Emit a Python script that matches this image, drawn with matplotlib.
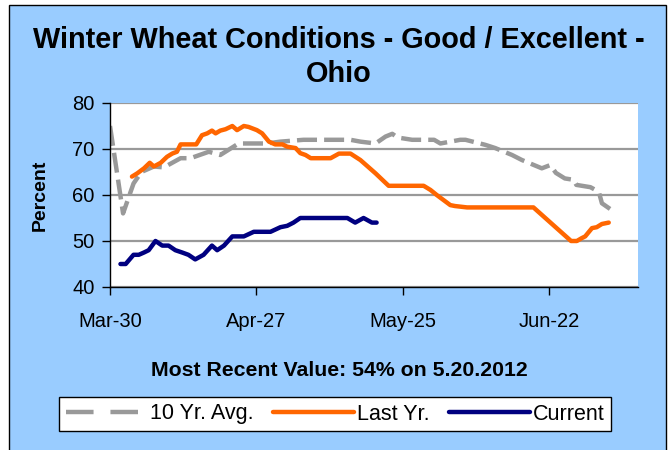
import matplotlib
matplotlib.use('Agg')
from matplotlib import pyplot as plt
from matplotlib.patches import Rectangle
from matplotlib.lines import Line2D

plt.rcParams['font.family'] = ['Liberation Sans', 'DejaVu Sans']

# days counted from Mar-30
tick_days = [0, 28, 56, 84]
tick_labels = ['Mar-30', 'Apr-27', 'May-25', 'Jun-22']

avg_days = [0, 2.5, 4.5, 6, 8.4, 10.3, 13.5, 15.4, 18.9, 21.1, 24.6, 30, 32.6, 37, 46,
            47.9, 50.8, 52.7, 54, 55, 57.8, 62, 63.2, 67, 68, 71.8, 73.7, 76.9, 78.8,
            82.6, 84.2, 85.3, 87, 88.7, 89.2, 91.9, 93.5, 94.1, 96]
avg_vals = [75, 56, 62.5, 65, 66.2, 66, 68, 68, 69.4, 68.7, 71.2, 71.2, 71.6, 72, 72,
            71.6, 71.2, 72.7, 73.3, 72.5, 72, 72, 71.2, 72, 72, 70.9, 70.2, 68.7, 67.6,
            65.8, 66.5, 64.8, 63.6, 63.3, 62.2, 61.7, 60.7, 58.2, 56.7]

last_days = [4.2, 5.2, 6.5, 7.6, 8.4, 9.7, 10.9, 11.9, 12.8, 13.5, 16.5, 17.6, 18.6,
             19.5, 20.2, 21.1, 22.1, 23.4, 24.3, 25.6, 26.5, 28.1, 29.1, 30.4, 31.6,
             33, 33.9, 35.5, 36.4, 37.4, 38.4, 42.2, 43.8, 46, 47.9, 50.8, 53.3, 60,
             61.3, 62.5, 65.1, 66, 68.3, 81, 88.2, 89.3, 90.2, 90.9, 92.2, 93.1, 94.1, 95.4]
last_vals = [64, 64.7, 65.8, 67, 66.2, 67, 68.3, 69, 69.4, 71, 71, 73, 73.4,
             74, 73.4, 74, 74.3, 75, 74.1, 75, 74.8, 74.1, 73.4, 71.6, 71,
             71, 70.5, 70.2, 69.1, 68.7, 68, 68, 69, 69, 67.6, 64.7, 62, 62,
             61.1, 60, 57.8, 57.6, 57.3, 57.3, 50, 50, 50.6, 51, 52.8, 53, 53.7, 54]

cur_days = [2, 3, 4.5, 5.5, 6.5, 7.4, 8.7, 10, 11.2, 12.5, 13.8, 15, 16.3, 17.9, 19.5,
            20.5, 21.8, 23.4, 25.6, 27.5, 30.7, 32.6, 33.9, 35.1, 36.4, 45.4, 46.9,
            48.5, 50.1, 51]
cur_vals = [45, 45, 47, 47, 47.5, 48, 50, 49, 49, 48, 47.5, 47, 46, 47, 49,
            48, 49, 51, 51, 52, 52, 53, 53.3, 54, 55, 55, 54, 55, 54, 54]

fig = plt.figure(figsize=(6.7, 4.5), dpi=100)
fig.patch.set_facecolor('white')
bg = Rectangle((8.5 / 670, -0.1), 657.5 / 670, 1.1 - 5 / 450,
               transform=fig.transFigure, facecolor='#99CCFF',
               edgecolor='black', lw=1, zorder=-10)
fig.add_artist(bg)

ax = fig.add_axes([110 / 670, 1 - 287 / 450, 528 / 670, 184 / 450])
ax.set_facecolor('white')

ax.plot(avg_days, avg_vals, color='#999999', lw=3.2, dashes=(4.5, 1.6))
ax.plot(last_days, last_vals, color='#FF6600', lw=3.2,
        solid_capstyle='round', solid_joinstyle='round')
ax.plot(cur_days, cur_vals, color='#000080', lw=3.2,
        solid_capstyle='round', solid_joinstyle='round')

ax.set_xlim(0, 101)
ax.set_ylim(40, 80)
ax.set_yticks([40, 50, 60, 70, 80])
ax.set_xticks(tick_days)
ax.set_xticklabels(tick_labels)
ax.yaxis.grid(True, color='#999999', lw=1.6)
ax.set_axisbelow(True)
for s in ['top', 'right']:
    ax.spines[s].set_visible(False)
for s in ['left', 'bottom']:
    ax.spines[s].set_color('black')
    ax.spines[s].set_linewidth(1)
ax.tick_params(axis='y', direction='out', length=6, width=1, labelsize=14.5, pad=5)
ax.tick_params(axis='x', direction='out', length=6, width=1, labelsize=14.5, pad=12)

fig.text(339 / 670, 1 - 57 / 450, 'Winter Wheat Conditions - Good / Excellent -\nOhio',
         ha='center', va='center', fontsize=20.8, fontweight='bold', linespacing=1.3)
fig.text(40 / 670, 1 - 195 / 450, 'Percent', rotation=90, ha='center', va='center',
         fontsize=14, fontweight='bold')
fig.text(339 / 670, 1 - 371 / 450, 'Most Recent Value: 54% on 5.20.2012',
         ha='center', va='center', fontsize=15.3, fontweight='bold')

handles = [Line2D([], [], color='#999999', lw=3.2, dashes=(6.2, 3.8)),
           Line2D([], [], color='#FF6600', lw=3.2, solid_capstyle='round'),
           Line2D([], [], color='#000080', lw=3.2, solid_capstyle='round')]
leg = fig.legend(handles, ['10 Yr. Avg.', 'Last Yr.', 'Current'], loc='center',
                 bbox_to_anchor=(335 / 670, 1 - 414 / 450), ncol=3, fontsize=15.5,
                 frameon=True, fancybox=False, edgecolor='black', framealpha=1,
                 handlelength=3.8, handletextpad=0.1, columnspacing=0.9,
                 borderpad=0.3, borderaxespad=0)
leg.get_frame().set_linewidth(1)

plt.savefig('out.png', dpi=100)
